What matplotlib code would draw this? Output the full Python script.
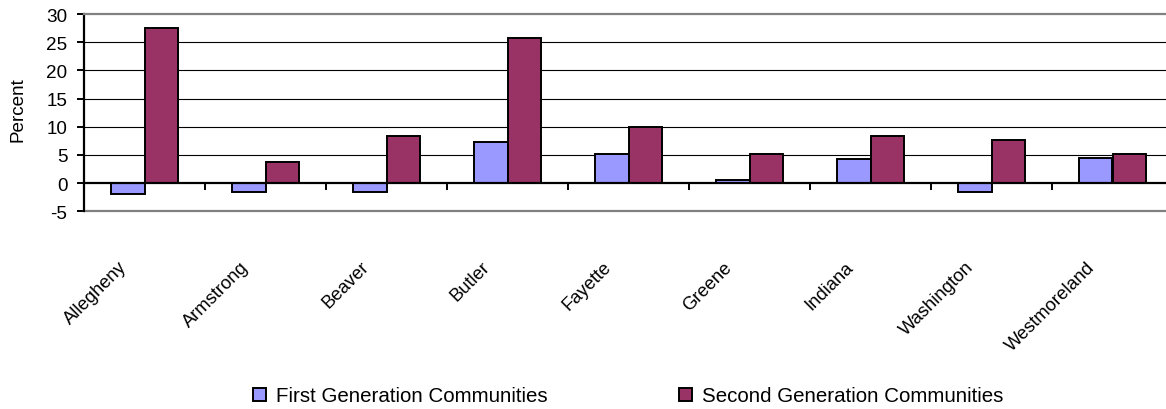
import numpy as np
import matplotlib
matplotlib.use("Agg")
import matplotlib.pyplot as plt
from matplotlib.patches import Patch
from matplotlib.transforms import ScaledTranslation

plt.rcParams['font.family'] = ['Liberation Sans', 'DejaVu Sans']

# County-level change in percent
counties = ["Allegheny", "Armstrong", "Beaver", "Butler", "Fayette",
            "Greene", "Indiana", "Washington", "Westmoreland"]
first_gen = [-1.9, -1.5, -1.5, 7.3, 5.25, 0.6, 4.2, -1.5, 4.5]
second_gen = [27.5, 3.8, 8.4, 25.8, 9.9, 5.25, 8.4, 7.7, 5.2]
series_names = ["First Generation Communities", "Second Generation Communities"]
y_ticks = [-5, 0, 5, 10, 15, 20, 25, 30]

col_first = "#9999FF"
col_second = "#993366"

W, H, DPI = 1166, 410, 100
fig = plt.figure(figsize=(W / DPI, H / DPI), dpi=DPI)

# plot area in pixels: left 84, right 1173 (runs past the canvas edge), top 15, bottom 212
x0, x1, yt, yb = 84, 1173, 15, 212.3
ax = fig.add_axes([x0 / W, 1 - yb / H, (x1 - x0) / W, (yb - yt) / H])

n = len(counties)
pos = np.arange(n) + 0.5
bw = 0.28
ax.bar(pos - bw / 2, first_gen, bw, color=col_first, edgecolor="black",
       linewidth=1.4, zorder=3)
ax.bar(pos + bw / 2, second_gen, bw, color=col_second, edgecolor="black",
       linewidth=1.4, zorder=3)

ax.set_xlim(0, n)
ax.set_ylim(-5, 30)

# horizontal gridlines
for v in y_ticks[2:-1]:
    ax.axhline(v, color="black", linewidth=0.8, zorder=1)
# grey plot-area border at top and bottom
ax.axhline(-5, color="#808080", linewidth=1.6, zorder=2, clip_on=False)
ax.spines['top'].set_color("#808080")
ax.spines['top'].set_linewidth(1.6)
ax.spines['right'].set_visible(False)

# category axis sits at zero
ax.spines['bottom'].set_position(('data', 0))
ax.spines['bottom'].set_linewidth(1.6)
ax.spines['bottom'].set_zorder(4)
ax.spines['left'].set_linewidth(1.6)

ax.set_xticks(np.arange(0, n + 1))
ax.set_xticklabels([])
ax.tick_params(axis='x', direction='out', length=5, width=1.4, color='black')

ax.set_yticks(y_ticks)
ax.set_yticklabels([str(v) for v in y_ticks], fontsize=13.6)
ax.tick_params(axis='y', direction='out', length=5, width=1.4, pad=7)

# rotated category labels below the plot area
shift = ScaledTranslation(-20 / DPI, 0, fig.dpi_scale_trans)
for p, name in zip(pos, counties):
    ax.text(p, -0.267, name, transform=ax.get_xaxis_transform() + shift,
            rotation=45, rotation_mode='anchor', ha='right', va='center',
            fontsize=13.2)

fig.text(18.5 / W, 1 - 110 / H, "Percent", rotation=90, ha='center',
         va='center', fontsize=13.6)

handles = [Patch(facecolor=col_first, edgecolor='black', linewidth=1.4),
           Patch(facecolor=col_second, edgecolor='black', linewidth=1.4)]
fig.legend(handles, series_names, loc='center', bbox_to_anchor=(628 / W, 1 - 397 / H),
           ncol=2, frameon=False, fontsize=14.8, handlelength=0.63, handleheight=0.63,
           handletextpad=0.49, columnspacing=6.37)

fig.savefig("out.png", dpi=DPI)
